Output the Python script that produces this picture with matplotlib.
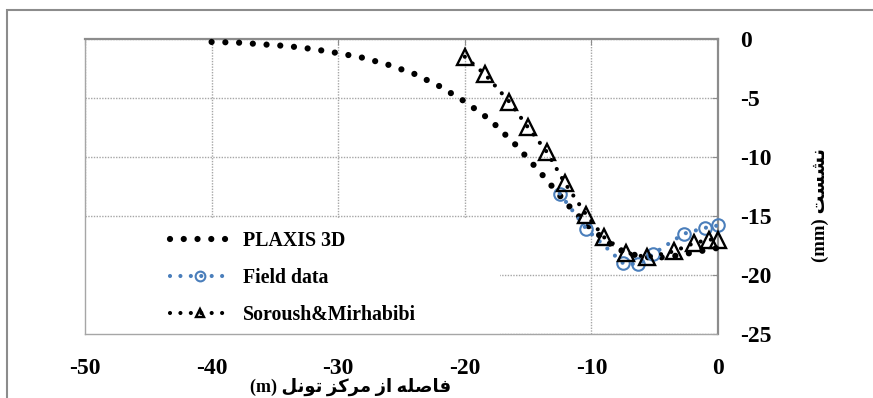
import matplotlib.pyplot as plt
from matplotlib.lines import Line2D
from matplotlib.patches import Rectangle

# distance from tunnel centre (m) and settlement (mm)
plaxis_x = [-40, -38, -36, -34, -32, -30, -28, -26, -24, -22, -20, -18, -16, -14, -12, -10, -8, -6, -4, -2, 0]
plaxis_y = [-0.25, -0.3, -0.45, -0.6, -0.85, -1.2, -1.6, -2.2, -2.95, -4.0, -5.3, -6.85, -8.95, -11.35, -13.9, -16.1, -17.8, -18.5, -18.5, -18.1, -17.7]

field_x = [-12.5, -10.4, -7.5, -6.3, -5.1, -2.7, -1.0, 0]
field_y = [-13.1, -16.1, -19.0, -19.1, -18.2, -16.5, -16.0, -15.8]

soroush_x = [-20.0, -18.4, -16.5, -15.0, -13.5, -12.1, -10.4, -9.0, -7.3, -5.6, -3.5, -1.9, -0.7, 0]
soroush_y = [-1.5, -3.0, -5.3, -7.5, -9.6, -12.2, -14.9, -16.8, -18.1, -18.5, -18.0, -17.3, -17.0, -17.0]

series_names = ["PLAXIS 3D", "Field data", "Soroush&Mirhabibi"]
x_ticks = [-50, -40, -30, -20, -10, 0]
y_ticks = [0, -5, -10, -15, -20, -25]

# Persian labels in visual order (presentation forms)
x_label = "(m) " + "\uFEDE\uFEE7\uFEEE\uFE97" + " " + "\uFEB0\uFB90\uFEAE\uFEE3" + " " + "\uFEAF\uFE8D" + " " + "\uFEEA\uFEE0\uFEBB\uFE8E\uFED3"
y_label = "(mm) " + "\uFE96\uFEB4\uFEB8\uFEE7"

plt.rcParams['font.family'] = ['Liberation Serif', 'DejaVu Sans']
plt.rcParams['font.weight'] = 'bold'

blue = '#4a7ebb'
grey = '#8c8c8c'
big_dots = (0, (0.001, 2.2))
small_dots = (0, (0.001, 2.5))

fig = plt.figure(figsize=(8.73, 3.98), dpi=100)
ax = fig.add_axes([85 / 873, 1 - 334 / 398, 633 / 873, 295 / 398])

ax.plot(plaxis_x, plaxis_y, color='black', lw=4.5, linestyle=big_dots,
        dash_capstyle='round', clip_on=False, zorder=3)
ax.plot(field_x, field_y, color=blue, lw=3.0, linestyle=small_dots,
        dash_capstyle='round', marker='o', markersize=9, markerfacecolor='none',
        markeredgecolor=blue, markeredgewidth=1.5, clip_on=False, zorder=4)
ax.plot(soroush_x, soroush_y, color='black', lw=3.0, linestyle=small_dots,
        dash_capstyle='round', marker='^', markersize=12, markerfacecolor='none',
        markeredgecolor='black', markeredgewidth=1.7, clip_on=False, zorder=5)

ax.set_xlim(-50, 0)
ax.set_ylim(-25, 0)
ax.set_xticks(x_ticks)
ax.set_yticks(y_ticks)
ax.set_xticklabels([str(v) for v in x_ticks])
ax.set_yticklabels([str(v) for v in y_ticks])

ax.grid(True, color='#a6a6a6', linestyle=(0, (1, 1)), linewidth=1.0)
for s in ['top', 'right']:
    ax.spines[s].set_color(grey)
    ax.spines[s].set_linewidth(1.6)
for s in ['left', 'bottom']:
    ax.spines[s].set_color('#a6a6a6')
    ax.spines[s].set_linestyle((0, (1, 1)))
    ax.spines[s].set_linewidth(1.0)

ax.tick_params(axis='x', which='both', direction='in', length=4, color=grey,
               top=True, bottom=False, labeltop=False, labelbottom=True,
               labelsize=17, pad=17)
ax.tick_params(axis='y', which='both', direction='in', length=4, color=grey,
               right=True, left=False, labelright=True, labelleft=False,
               labelsize=17, pad=16)
for lab in ax.get_yticklabels():
    lab.set_horizontalalignment('left')

ax.text(0.42, -0.18, x_label, transform=ax.transAxes, ha='center', va='center',
        fontsize=13, fontweight='bold')
fig.text(820 / 873, 1 - 205 / 398, y_label, rotation=90, ha='center', va='center',
         fontsize=13.5, fontweight='bold')

# white legend area hiding the grid
ax.add_patch(Rectangle((0, 0), 0.656, 0.393, transform=ax.transAxes,
                       facecolor='white', edgecolor='none', zorder=2.2))

# legend proxies with smaller markers
handles = [
    Line2D([], [], color='black', lw=4.5, linestyle=big_dots, dash_capstyle='round'),
    Line2D([], [], color=blue, lw=3.0, linestyle=small_dots, dash_capstyle='round',
           marker='o', markersize=7, markerfacecolor='none', markeredgecolor=blue, markeredgewidth=1.5),
    Line2D([], [], color='black', lw=3.0, linestyle=small_dots, dash_capstyle='round',
           marker='^', markersize=6, markerfacecolor='none', markeredgecolor='black', markeredgewidth=1.7),
]
leg = ax.legend(handles, series_names, loc='lower left', bbox_to_anchor=(0.134, 0.032),
                fontsize=14.3, frameon=False, handlelength=3.0, handletextpad=0.7,
                labelspacing=0.85, borderpad=0.0, borderaxespad=0.0, numpoints=1)
leg.set_zorder(6)
for t in leg.get_texts():
    t.set_fontweight('bold')

fig.patches.append(Rectangle((7 / 873, -0.2), 1.2, 1.2 - 10 / 398, transform=fig.transFigure,
                             fill=False, edgecolor=grey, linewidth=1.5))

fig.savefig('out.png', dpi=100)
